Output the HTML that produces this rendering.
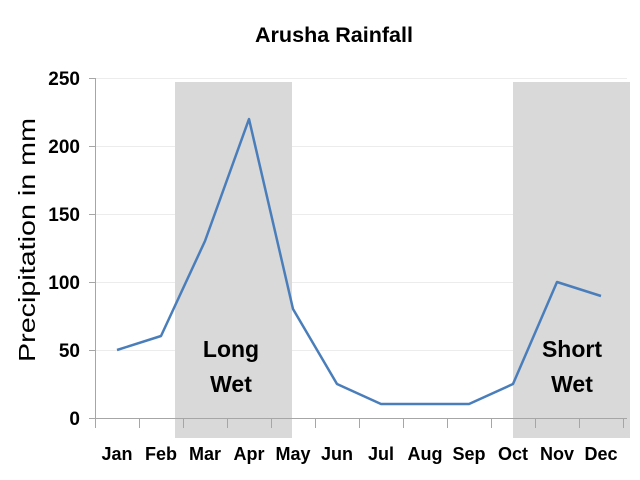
<!DOCTYPE html>
<html><head><style>body{margin:0;background:#fff}svg{display:block}</style></head>
<body>
<svg width="640" height="480" viewBox="0 0 640 480" xmlns="http://www.w3.org/2000/svg" font-family="Liberation Sans, sans-serif">
<rect width="640" height="480" fill="#fff"/>
<g stroke="#ececec" stroke-width="1">
<line x1="95" y1="78.5" x2="627" y2="78.5"/>
<line x1="95" y1="146.5" x2="627" y2="146.5"/>
<line x1="95" y1="214.5" x2="627" y2="214.5"/>
<line x1="95" y1="282.5" x2="627" y2="282.5"/>
<line x1="95" y1="350.5" x2="627" y2="350.5"/>
</g>
<rect x="175" y="82" width="117" height="356" fill="#d9d9d9"/>
<rect x="513" y="82" width="117" height="356" fill="#d9d9d9"/>
<g stroke="#a6a6a6" stroke-width="1">
<line x1="95.5" y1="78" x2="95.5" y2="418"/>
<line x1="89" y1="78.5" x2="95" y2="78.5"/>
<line x1="89" y1="146.5" x2="95" y2="146.5"/>
<line x1="89" y1="214.5" x2="95" y2="214.5"/>
<line x1="89" y1="282.5" x2="95" y2="282.5"/>
<line x1="89" y1="350.5" x2="95" y2="350.5"/>
<line x1="89" y1="418.5" x2="627" y2="418.5"/>
<path d="M95.5 418v10M139.5 418v10M183.5 418v10M227.5 418v10M271.5 418v10M315.5 418v10M359.5 418v10M403.5 418v10M447.5 418v10M491.5 418v10M535.5 418v10M579.5 418v10M623.5 418v10"/>
</g>
<polyline fill="none" stroke="#4a7ebb" stroke-width="2.5" stroke-linejoin="round" points="117,350 161,336 205,241 249,119 293,309 337,384 381,404 425,404 469,404 513,384 557,282 601,296"/>
<text x="334" y="42" text-anchor="middle" font-size="21" font-weight="bold" textLength="158" lengthAdjust="spacingAndGlyphs">Arusha Rainfall</text>
<g font-size="19" font-weight="bold" text-anchor="end">
<text x="80" y="85">250</text><text x="80" y="153">200</text><text x="80" y="221">150</text>
<text x="80" y="289">100</text><text x="80" y="357">50</text><text x="80" y="425">0</text>
</g>
<text transform="translate(35,240) rotate(-90)" text-anchor="middle" font-size="23" textLength="244" lengthAdjust="spacingAndGlyphs">Precipitation in mm</text>
<g font-size="18" font-weight="bold" text-anchor="middle">
<text x="117" y="460">Jan</text><text x="161" y="460">Feb</text><text x="205" y="460">Mar</text>
<text x="249" y="460">Apr</text><text x="293" y="460">May</text><text x="337" y="460">Jun</text>
<text x="381" y="460">Jul</text><text x="425" y="460">Aug</text><text x="469" y="460">Sep</text>
<text x="513" y="460">Oct</text><text x="557" y="460">Nov</text><text x="601" y="460">Dec</text>
</g>
<g font-size="23" font-weight="bold" text-anchor="middle">
<text x="231" y="357">Long</text><text x="231" y="392">Wet</text>
<text x="572" y="357">Short</text><text x="572" y="392">Wet</text>
</g>
</svg>
</body></html>
